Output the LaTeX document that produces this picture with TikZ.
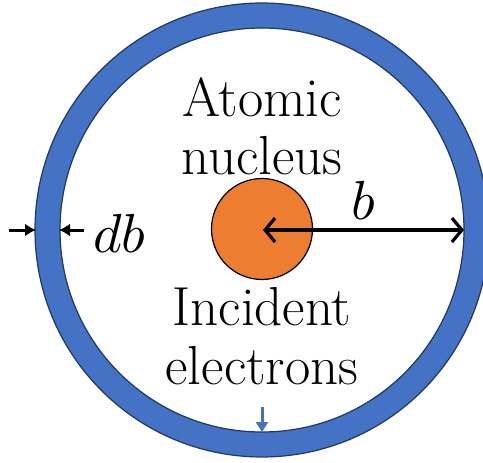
\documentclass[tikz,border=0pt]{standalone}
\usetikzlibrary{arrows.meta}
\DeclareFontShape{OML}{cmm}{m}{it}{<->cmmi10}{}
\definecolor{ringblue}{HTML}{4472C4}
\definecolor{ringedge}{HTML}{1F3864}
\definecolor{nucorange}{HTML}{ED7D31}
\tikzset{
  lbl/.style={font=\fontsize{55}{58}\selectfont, inner sep=0pt, align=center},
  mlbl/.style={font=\fontsize{55}{60}\selectfont, inner sep=0pt},
  darr/.style={line width=3pt, -{Latex[length=11pt,width=13pt]}},
  barr/.style={line width=3.2pt, {Straight Barb[length=10pt,width=24pt,line width=3.2pt]}-{Straight Barb[length=10pt,width=24pt,line width=3.2pt]}}
}
\begin{document}
\begin{tikzpicture}[x=1pt,y=-1pt]
\useasboundingbox (0,0) rectangle (483,463);
\clip (0,0) rectangle (483,463);
\fill[ringblue, even odd rule] (262,230) circle (227) (262,230) circle (202);
\draw[ringedge, line width=1.2pt] (262,230) circle (227) (262,230) circle (202);
\node[circle, fill=nucorange, draw=black, line width=1.2pt, minimum size=101pt, inner sep=0pt] (nuc) at (262,229) {};
\coordinate (ctr) at (263,230);
\coordinate (inr) at (464,230);
\draw[barr] (ctr) -- (inr);
\node[mlbl] (b) at (363,200) {$b$};
\coordinate (la) at (9,230);
\coordinate (lb) at (36,230);
\coordinate (ra) at (84,230);
\coordinate (rb) at (59,230);
\draw[darr] (la) -- (lb);
\draw[darr] (ra) -- (rb);
\node[mlbl, anchor=west] (db) at (93,233) {$db$};
\node[lbl] (t1) at (262,97) {Atomic};
\node[lbl] (t2) at (262,156) {nucleus};
\node[lbl] (t3) at (262,307) {Incident};
\node[lbl] (t4) at (262,366) {electrons};
\coordinate (ea) at (262,407);
\coordinate (eb) at (262,432);
\draw[ringblue, line width=3pt, -{Triangle[length=10pt,width=12pt]}] (ea) -- (eb);
\end{tikzpicture}
\end{document}
